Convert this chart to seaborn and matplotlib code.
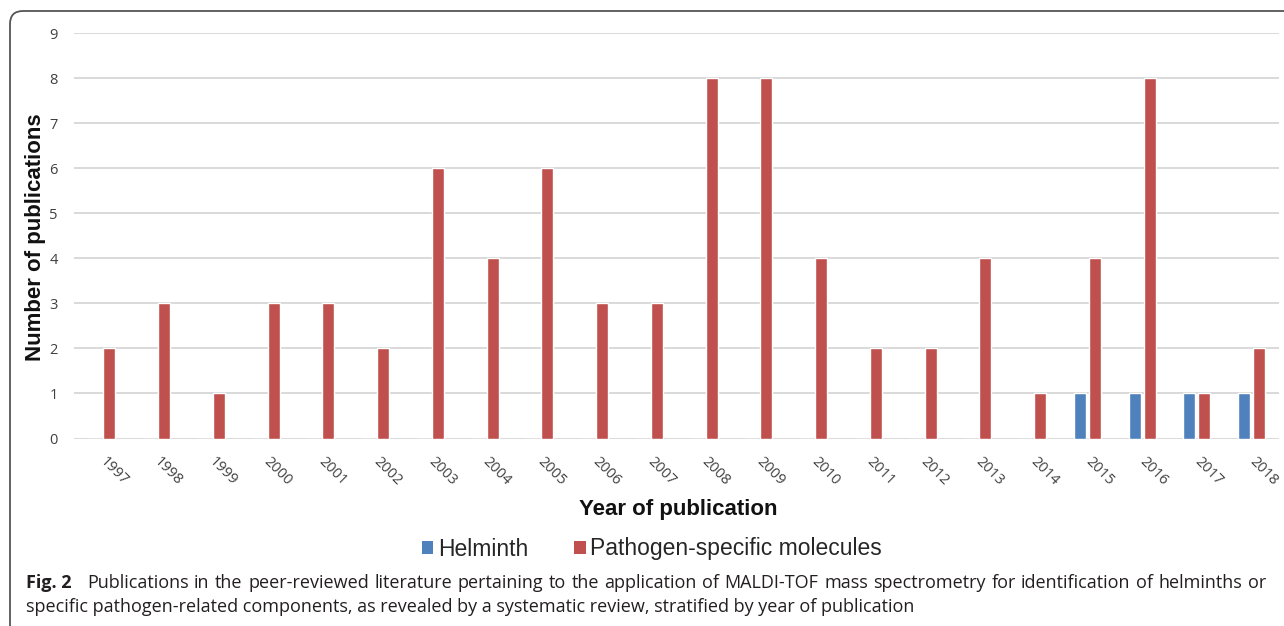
import matplotlib
matplotlib.use("Agg")
import matplotlib.pyplot as plt
import seaborn as sns
import pandas as pd
from matplotlib.patches import FancyBboxPatch, Patch
from matplotlib.transforms import IdentityTransform

# data
years = [str(y) for y in range(1997, 2019)]
helminth = [0, 0, 0, 0, 0, 0, 0, 0, 0, 0, 0, 0, 0, 0, 0, 0, 0, 0, 1, 1, 1, 1]
pathogen = [2, 3, 1, 3, 3, 2, 6, 4, 6, 3, 3, 8, 8, 4, 2, 2, 4, 1, 4, 8, 1, 2]
groups = ["Helminth", "Pathogen-specific molecules"]
colors = ["#4F81BD", "#C0504D"]

caption_1 = ("Publications in the peer-reviewed literature pertaining to the application of "
             "MALDI-TOF mass spectrometry for identification of helminths or")
caption_2 = ("specific pathogen-related components, as revealed by a systematic review, "
             "stratified by year of publication")

df = pd.DataFrame({
    "year": years * 2,
    "count": helminth + pathogen,
    "group": [groups[0]] * len(years) + [groups[1]] * len(years),
})

sns.set_style("white")
plt.rcParams["font.family"] = ["Liberation Sans", "DejaVu Sans"]

fig = plt.figure(figsize=(12.84, 6.26), dpi=100)

# rounded frame around figure + caption
frame = FancyBboxPatch((10, -60), 1400, 626 - 11 + 60,
                       boxstyle="round,pad=0,rounding_size=13",
                       transform=IdentityTransform(), fill=False,
                       edgecolor="#555555", linewidth=1.3)
fig.patches.append(frame)

ax = fig.add_axes([0.058, 0.2995, 0.9381, 0.6473])
sns.barplot(data=df, x="year", y="count", hue="group", palette=colors,
            width=0.555, gap=0.21, saturation=1, ax=ax, legend=False)

ax.set_ylim(0, 9)
ax.set_yticks(range(10))
ax.set_xlim(-0.5, len(years) - 0.5)
ax.yaxis.grid(True, color="#D9D9D9", linewidth=1.4)
ax.set_axisbelow(True)
for s in ax.spines.values():
    s.set_visible(False)
ax.set_xlabel("")
ax.set_ylabel("")
ax.tick_params(axis="y", length=0, pad=12, labelsize=10.5, labelcolor="#404040")
ax.tick_params(axis="x", length=0, pad=15, labelsize=10.5, labelcolor="#404040")
for lab in ax.get_xticklabels():
    lab.set_rotation(-45)
    lab.set_rotation_mode("anchor")
    lab.set_ha("left")
    lab.set_va("center")
for lab in ax.get_xticklabels() + ax.get_yticklabels():
    lab.set_family(["Open Sans", "DejaVu Sans"])

fig.text(36 / 1284, 1 - 237 / 626, "Number of publications", rotation=90,
         ha="center", va="center", fontsize=16, fontweight="bold", color="#111111")
fig.text(678 / 1284, 1 - 510 / 626, "Year of publication",
         ha="center", va="center", fontsize=16, fontweight="bold", color="#111111")

handles = [Patch(facecolor=c, edgecolor="none") for c in colors]
fig.legend(handles, groups, loc="center", bbox_to_anchor=(652 / 1284, 1 - 549 / 626),
           ncol=2, frameon=False, fontsize=16.5, handlelength=0.5, handleheight=0.5,
           handletextpad=0.2, columnspacing=2.0)

# caption; first line is justified like in the journal layout
cap_font = ["Open Sans", "DejaVu Sans"]
cap_size = 13
cap_color = "#231f20"
fig.text(26 / 1284, 1 - 588 / 626, "Fig. 2", ha="left", va="baseline",
         fontsize=cap_size, fontweight="bold", family=cap_font, color=cap_color)

renderer = fig.canvas.get_renderer()
words = caption_1.split()
objs = []
for w in words:
    t = fig.text(0, 1 - 588 / 626, w, ha="left", va="baseline",
                 fontsize=cap_size, family=cap_font, color=cap_color)
    objs.append(t)
widths = [t.get_window_extent(renderer).width for t in objs]
x0, x1 = 87, 1266
space = (x1 - x0 - sum(widths)) / (len(words) - 1)
x = x0
for t, w in zip(objs, widths):
    t.set_x(x / 1284)
    x += w + space

fig.text(26 / 1284, 1 - 612 / 626, caption_2, ha="left", va="baseline",
         fontsize=cap_size, family=cap_font, color=cap_color)

fig.savefig("out.png", dpi=100)
